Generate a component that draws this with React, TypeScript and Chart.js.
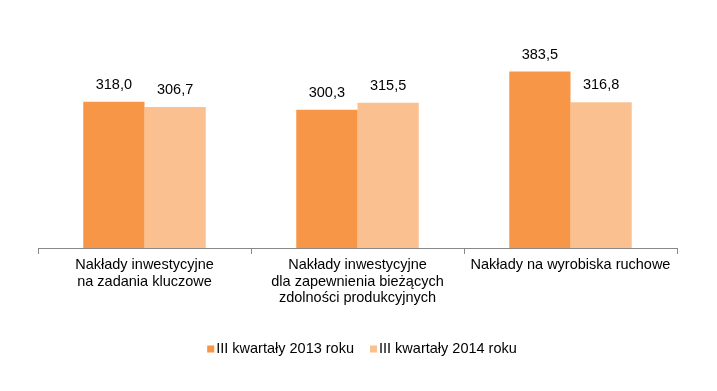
import React, { useEffect, useRef } from "react";
import { Chart, registerables } from "chart.js";

Chart.register(...registerables);

const categories: string[][] = [
  ["Nakłady inwestycyjne", "na zadania kluczowe"],
  ["Nakłady inwestycyjne", "dla zapewnienia bieżących", "zdolności produkcyjnych"],
  ["Nakłady na wyrobiska ruchowe"],
];
const series2013: number[] = [318.0, 300.3, 383.5];
const series2014: number[] = [306.7, 315.5, 316.8];
const seriesNames: string[] = ["III kwartały 2013 roku", "III kwartały 2014 roku"];
const colors: string[] = ["#F79646", "#FAC090"];

const FONT = "'Liberation Sans', Arial, sans-serif";
const FS = 14.5;

const fmt = (v: number) => v.toFixed(1).replace(".", ",");

const valueLabels = {
  id: "valueLabels",
  afterDatasetsDraw(chart: any) {
    const ctx = chart.ctx;
    ctx.save();
    ctx.font = `${FS}px ${FONT}`;
    ctx.fillStyle = "#000";
    ctx.textAlign = "center";
    ctx.textBaseline = "middle";
    chart.data.datasets.forEach((ds: any, i: number) => {
      const meta = chart.getDatasetMeta(i);
      meta.data.forEach((bar: any, j: number) => {
        ctx.fillText(fmt(ds.data[j]), bar.x, bar.y - 17);
      });
    });
    ctx.restore();
  },
};

const customLegend = {
  id: "customLegend",
  afterDraw(chart: any) {
    const ctx = chart.ctx;
    ctx.save();
    ctx.font = `${FS}px ${FONT}`;
    ctx.textBaseline = "middle";
    ctx.textAlign = "left";
    const box = 7;
    const gapBox = 2;
    const gapItem = 16;
    const widths = seriesNames.map((n) => ctx.measureText(n).width);
    const total = widths.reduce((a, b) => a + b, 0) + seriesNames.length * (box + gapBox) + gapItem * (seriesNames.length - 1);
    let x = 362 - total / 2;
    const y = 349;
    seriesNames.forEach((n, i) => {
      ctx.fillStyle = colors[i];
      ctx.fillRect(x, y - box / 2, box, box);
      x += box + gapBox;
      ctx.fillStyle = "#000";
      ctx.fillText(n, x, y);
      x += widths[i] + gapItem;
    });
    ctx.restore();
  },
};

export default function App() {
  const ref = useRef<HTMLCanvasElement | null>(null);
  useEffect(() => {
    if (!ref.current) return;
    const chart = new Chart(ref.current, {
      type: "bar",
      data: {
        labels: categories,
        datasets: [
          { label: seriesNames[0], data: series2013, backgroundColor: colors[0] },
          { label: seriesNames[1], data: series2014, backgroundColor: colors[1] },
        ],
      },
      options: {
        animation: false,
        responsive: false,
        maintainAspectRatio: false,
        layout: { padding: { top: 41, left: 38, right: 40, bottom: 0 } },
        datasets: {
          bar: { categoryPercentage: 0.575, barPercentage: 1.0 },
        },
        plugins: {
          legend: { display: false },
          tooltip: { enabled: false },
        },
        scales: {
          y: { display: false, min: 0, max: 450 },
          x: {
            offset: true,
            grid: {
              display: true,
              drawOnChartArea: false,
              drawTicks: true,
              tickLength: 6,
              color: "#888888",
              offset: true,
            },
            border: { display: true, color: "#888888", width: 1 },
            ticks: {
              color: "#000",
              padding: 3,
              maxRotation: 0,
              autoSkip: false,
              font: { family: FONT, size: FS, lineHeight: 1.14 },
            },
            afterFit: (scale: any) => {
              scale.height = 143;
            },
          },
        },
      },
      plugins: [valueLabels, customLegend],
    });
    return () => chart.destroy();
  }, []);
  return (
    <div style={{ position: "fixed", left: 0, top: 0, width: 717, height: 391, background: "#fff" }}>
      <canvas ref={ref} width={717} height={391} style={{ width: 717, height: 391 }} />
    </div>
  );
}
